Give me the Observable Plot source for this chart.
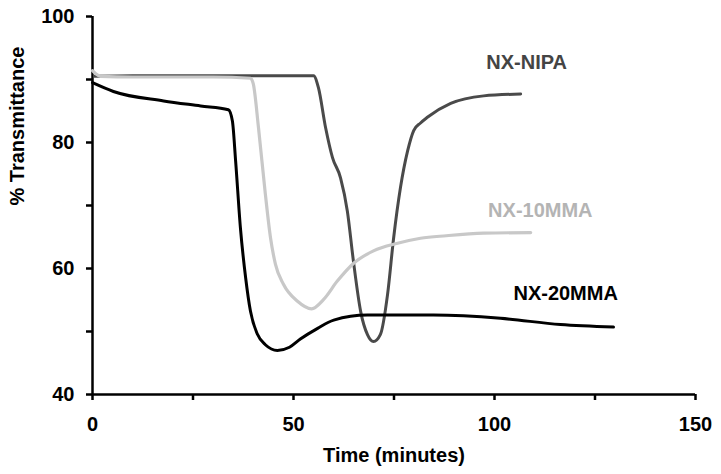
<!DOCTYPE html>
<html>
<head>
<meta charset="utf-8">
<script src="https://cdn.jsdelivr.net/npm/d3@7"></script>
<script src="https://cdn.jsdelivr.net/npm/@observablehq/plot@0.6"></script>
<style>
  html, body { margin: 0; padding: 0; background: #fff; }
  #chart svg { display: block; }
</style>
</head>
<body>
<div id="chart"></div>
<script>
// Series: time (minutes) and % transmittance
const nipaTime = [0.5, 10, 20, 30, 40, 50, 55.0, 56.2, 58.0, 59.7, 61.7, 63.4, 64.9, 66.7, 68.4, 69.9, 71.6, 73.4, 74.9, 76.6, 78.4, 79.9, 81.6, 83.3, 89.1, 97.3, 106.5];
const nipaT    = [90.5, 90.6, 90.6, 90.6, 90.6, 90.6, 90.6, 88.7, 82.3, 77.6, 74.4, 69.1, 61.2, 53.2, 49.5, 48.4, 49.5, 55.9, 64.8, 72.8, 78.7, 81.9, 83.1, 84.0, 86.2, 87.4, 87.7];

const mma10Time = [0, 0.8, 2, 10, 20, 30, 39.3, 40.0, 41.3, 43.0, 44.3, 45.5, 47.5, 51.0, 54.5, 57.5, 60.9, 64.9, 69.9, 75.9, 81.6, 88.0, 97.3, 109.0];
const mma10T    = [91.4, 90.9, 90.5, 90.4, 90.4, 90.4, 90.2, 89.3, 82.3, 71.8, 64.8, 60.7, 57.5, 54.8, 53.6, 55.1, 58.0, 60.8, 62.8, 64.0, 64.8, 65.2, 65.6, 65.7];

const mma20Time = [0, 5.2, 17.7, 26.9, 33.8, 34.8, 35.6, 36.8, 38.1, 39.3, 41.0, 43.0, 46.0, 49.0, 51.7, 56.0, 60.0, 68.4, 84.8, 101.5, 116.4, 129.6];
const mma20T    = [89.5, 88.1, 86.6, 85.8, 85.2, 83.4, 77.1, 66.4, 58.5, 53.2, 49.6, 47.9, 47.0, 47.5, 48.8, 50.5, 51.8, 52.6, 52.6, 52.1, 51.1, 50.7];

const seriesNames = ["NX-NIPA", "NX-10MMA", "NX-20MMA"];
const labelTime = [108.0, 111.4, 117.7];
const labelT = [92.7, 69.2, 56.0];

const xTicks = [0, 25, 50, 75, 100, 125, 150];
const xTickLabels = ["0", "", "50", "", "100", "", "150"];
const yTicks = [40, 50, 60, 70, 80, 90, 100];
const yTickLabels = ["40", "", "60", "", "80", "", "100"];

const xTitle = "Time (minutes)";
const yTitle = "% Transmittance";

const colors = ["#4a4a4a", "#c8c8c8", "#000000"];
const labelColors = ["#444444", "#b4b4b4", "#000000"];

const toRows = (ts, vs, name) => ts.map((t, i) => ({time: t, value: vs[i], series: name}));
const nipa = toRows(nipaTime, nipaT, seriesNames[0]);
const mma10 = toRows(mma10Time, mma10T, seriesNames[1]);
const mma20 = toRows(mma20Time, mma20T, seriesNames[2]);
const labels = seriesNames.map((s, i) => ({name: s, time: labelTime[i], value: labelT[i], color: labelColors[i]}));

const font = "'Liberation Sans', Arial, Helvetica, sans-serif";

const chart = Plot.plot({
  width: 721,
  height: 474,
  marginLeft: 92,
  marginRight: 26,
  marginTop: 16,
  marginBottom: 80,
  style: {fontFamily: font, fontWeight: "bold", fontSize: "20px", background: "#fff", color: "#000", overflow: "visible"},
  x: {domain: [0, 150]},
  y: {domain: [40, 100]},
  marks: [
    Plot.axisX({ticks: xTicks, tickFormat: (d) => xTickLabels[xTicks.indexOf(d)], tickSize: 6, tickPadding: 16, strokeWidth: 2.5, label: null, fontSize: 20, fontWeight: "bold"}),
    Plot.axisY({ticks: yTicks, tickFormat: (d) => yTickLabels[yTicks.indexOf(d)], tickSize: 6, tickPadding: 12, strokeWidth: 2.5, label: null, fontSize: 20, fontWeight: "bold"}),
    Plot.ruleX([0], {strokeWidth: 2.5, stroke: "#000"}),
    Plot.ruleY([40], {strokeWidth: 2.5, stroke: "#000"}),
    Plot.line(nipa, {x: "time", y: "value", stroke: colors[0], strokeWidth: 3, curve: "monotone-x"}),
    Plot.line(mma10, {x: "time", y: "value", stroke: colors[1], strokeWidth: 3.2, curve: "monotone-x"}),
    Plot.line(mma20, {x: "time", y: "value", stroke: colors[2], strokeWidth: 3, curve: "monotone-x"}),
    Plot.text(labels, {x: "time", y: "value", text: "name", fill: "color", fontSize: 20, fontWeight: "bold", textAnchor: "middle", lineAnchor: "middle"}),
    Plot.text([xTitle], {frameAnchor: "bottom", dy: 61, fontSize: 20, fontWeight: "bold", lineAnchor: "middle"}),
    Plot.text([yTitle], {frameAnchor: "left", dx: -75, rotate: -90, fontSize: 20, fontWeight: "bold", lineAnchor: "middle"})
  ]
});
document.getElementById("chart").appendChild(chart);
</script>
</body>
</html>
